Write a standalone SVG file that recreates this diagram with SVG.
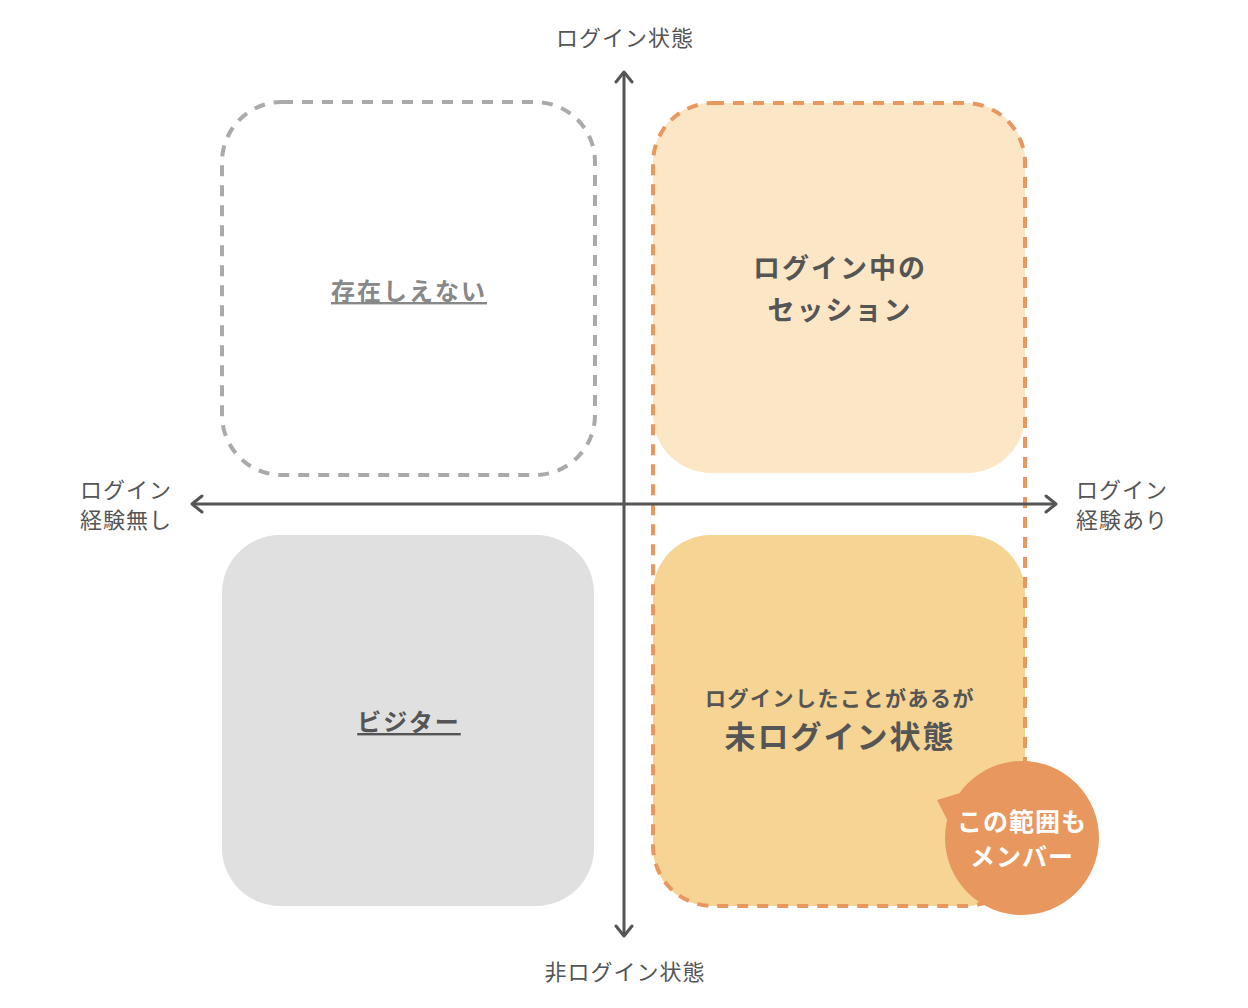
<svg xmlns="http://www.w3.org/2000/svg" width="1248" height="1008" viewBox="0 0 1248 1008">
<style>
text{font-family:"Noto Sans CJK JP","Noto Sans",sans-serif;}
.ax{font-size:22px;fill:#555;letter-spacing:1px;}
.b{font-weight:bold;}
</style>
<defs>
<marker id="arr" viewBox="0 0 20 20" refX="14" refY="10" markerWidth="20" markerHeight="20" markerUnits="userSpaceOnUse" orient="auto">
<path d="M4,2 L14,10 L4,18" fill="none" stroke="#555" stroke-width="3" stroke-linecap="round" stroke-linejoin="round"/>
</marker>
</defs>
<rect width="1248" height="1008" fill="#fff"/>
<g id="q-none">
<rect x="222" y="102" width="373" height="373" rx="60" fill="#fff" stroke="#aaa" stroke-width="4" stroke-dasharray="11 9"/>
<text x="409" y="300" text-anchor="middle" class="b" font-size="24" fill="#888" letter-spacing="2" text-decoration="underline">存在しえない</text>
</g>
<g id="q-session">
<rect x="653" y="103" width="372" height="370" rx="58" fill="#fbe7c6"/>
<text x="840" y="278" text-anchor="middle" class="b" font-size="27" fill="#555" letter-spacing="2">ログイン中の</text>
<text x="840" y="320" text-anchor="middle" class="b" font-size="27" fill="#555" letter-spacing="2">セッション</text>
</g>
<g id="q-visitor">
<rect x="222" y="535" width="372" height="371" rx="58" fill="#e0e0e0"/>
<text x="409" y="731" text-anchor="middle" class="b" font-size="24" fill="#555" letter-spacing="2" text-decoration="underline">ビジター</text>
</g>
<g id="q-loggedout">
<rect x="653" y="535" width="372" height="371" rx="58" fill="#f5d494"/>
<text x="840" y="706" text-anchor="middle" class="b" font-size="21" fill="#555" letter-spacing="1.5">ログインしたことがあるが</text>
<text x="840" y="748" text-anchor="middle" class="b" font-size="31" fill="#555" letter-spacing="2">未ログイン状態</text>
</g>
<g id="member-range">
<rect x="653" y="103" width="372" height="803" rx="60" fill="none" stroke="#e8975e" stroke-width="4" stroke-dasharray="11 9"/>
</g>
<g id="connectors">
<line x1="624" y1="504" x2="192" y2="504" stroke="#555" stroke-width="3" marker-end="url(#arr)"/>
<line x1="624" y1="504" x2="1056" y2="504" stroke="#555" stroke-width="3" marker-end="url(#arr)"/>
<line x1="624" y1="504" x2="624" y2="72" stroke="#555" stroke-width="3" marker-end="url(#arr)"/>
<line x1="624" y1="504" x2="624" y2="936" stroke="#555" stroke-width="3" marker-end="url(#arr)"/>
</g>
<g id="axis-labels">
<text x="625" y="46" text-anchor="middle" class="ax">ログイン状態</text>
<text x="625" y="980" text-anchor="middle" class="ax">非ログイン状態</text>
<text x="80" y="498" class="ax">ログイン</text>
<text x="80" y="528" class="ax">経験無し</text>
<text x="1076" y="498" class="ax">ログイン</text>
<text x="1076" y="528" class="ax">経験あり</text>
</g>
<g id="callout">
<polygon points="937,800 970,790 955,835" fill="#e8975e"/>
<circle cx="1022" cy="838" r="77" fill="#e8975e"/>
<text x="1022" y="831" text-anchor="middle" class="b" font-size="25" fill="#fff" letter-spacing="1">この範囲も</text>
<text x="1022" y="866" text-anchor="middle" class="b" font-size="25" fill="#fff" letter-spacing="1">メンバー</text>
</g>
</svg>
